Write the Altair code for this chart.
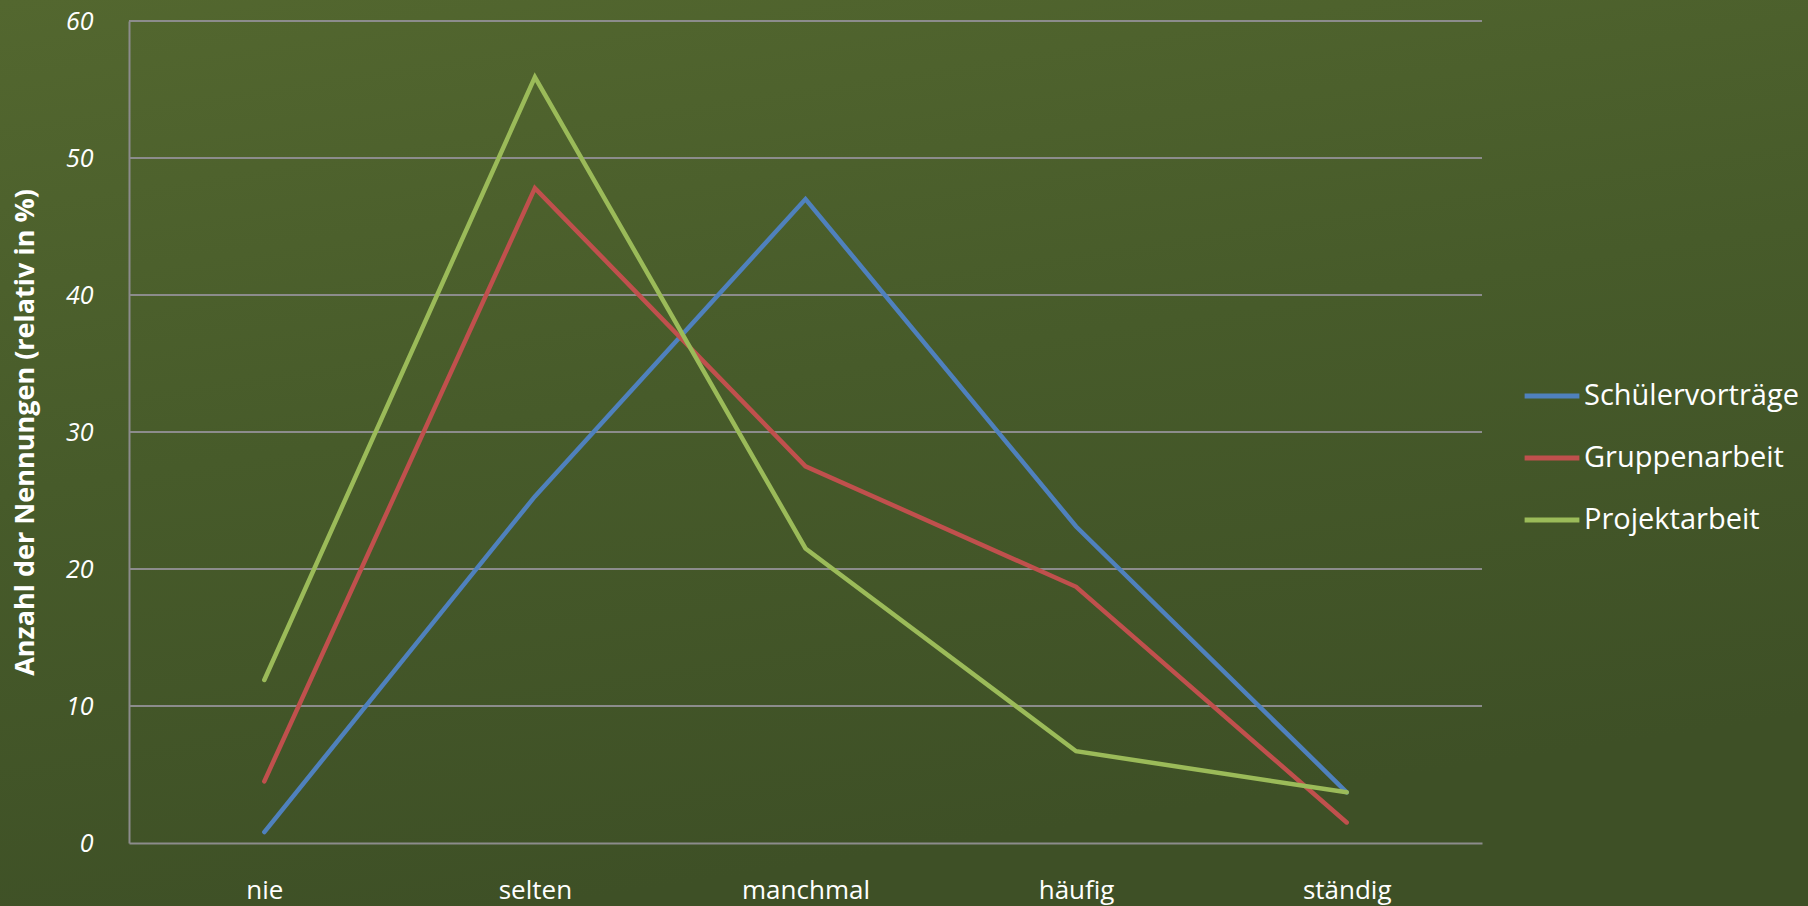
import altair as alt
import pandas as pd

categories = ["nie", "selten", "manchmal", "häufig", "ständig"]
series_names = ["Schülervorträge", "Gruppenarbeit", "Projektarbeit"]
schuelervortraege = [0.8, 25.3, 47.0, 23.1, 3.7]
gruppenarbeit = [4.5, 47.8, 27.5, 18.7, 1.5]
projektarbeit = [11.9, 55.9, 21.5, 6.7, 3.7]
colors = ["#4f81bd", "#c0504d", "#9bbb59"]
y_ticks = [0, 10, 20, 30, 40, 50, 60]

rows = []
for name, vals in zip(series_names, [schuelervortraege, gruppenarbeit, projektarbeit]):
    for c, v in zip(categories, vals):
        rows.append({"Kategorie": c, "Wert": v, "Reihe": name})
df = pd.DataFrame(rows)
grid_df = pd.DataFrame({"Wert": y_ticks[1:]})

FONT = "Open Sans"
W, H = 1353, 822
PAD = {"left": 129, "top": 21, "right": 326, "bottom": 63}

# chalkboard background (decoration)
bg = alt.Chart(pd.DataFrame({"a": [0]})).mark_rect(
    clip=False,
    color=alt.Gradient(
        gradient="linear", x1=0, y1=0, x2=0.3, y2=1,
        stops=[alt.GradientStop(color="#53672f", offset=0),
               alt.GradientStop(color="#475b2a", offset=0.5),
               alt.GradientStop(color="#3e5026", offset=1)],
    ),
).encode(
    x=alt.value(-PAD["left"]), x2=alt.value(W + PAD["right"]),
    y=alt.value(-PAD["top"]), y2=alt.value(H + PAD["bottom"]),
)

y_scale = alt.Scale(domain=[0, 60], nice=False)

grid = alt.Chart(grid_df).mark_rule(color="#8c8c8c", strokeWidth=2).encode(
    y=alt.Y("Wert:Q", scale=y_scale),
    x=alt.value(0), x2=alt.value(W),
)

lines = alt.Chart(df).mark_line(strokeWidth=4.5, strokeCap="round", strokeJoin="miter").encode(
    x=alt.X("Kategorie:N", sort=categories,
            scale=alt.Scale(paddingInner=0, paddingOuter=0),
            axis=alt.Axis(title=None, labelAngle=0, labelPadding=34, ticks=False,
                          domain=True, domainColor="#8c8c8c", domainWidth=2,
                          labelFontSize=26, labelColor="white", labelFont=FONT,
                          grid=False, zindex=1)),
    y=alt.Y("Wert:Q", scale=y_scale,
            axis=alt.Axis(title="Anzahl der Nennungen (relativ in %)", values=y_ticks,
                          ticks=False, domain=True, domainColor="#8c8c8c", domainWidth=2,
                          grid=False,
                          labelFontSize=25, labelColor="white", labelFont=FONT,
                          labelFontStyle="italic", labelPadding=36,
                          titleFontSize=27, titleColor="white", titleFont=FONT,
                          titleFontWeight="bold", titleAngle=270,
                          titleX=-104, titleY=H / 2, titleAlign="center",
                          titleBaseline="middle", zindex=1)),
    color=alt.Color("Reihe:N", sort=series_names,
                    scale=alt.Scale(domain=series_names, range=colors),
                    legend=alt.Legend(title=None, orient="none", legendX=1393, legendY=345,
                                      symbolType="stroke", symbolStrokeWidth=5,
                                      symbolSize=3000, labelFontSize=29, labelLimit=0,
                                      labelColor="white", labelFont=FONT,
                                      rowPadding=17, labelOffset=2)),
    order=alt.Order("Reihe:N"),
)

chart = alt.layer(bg, grid, lines).properties(
    width=W, height=H,
    autosize=alt.AutoSizeParams(type="none"),
    padding=PAD,
    background="#45592a",
).configure_view(stroke=None)

chart.save("out.html", embed_options={"renderer": "svg", "actions": False})
